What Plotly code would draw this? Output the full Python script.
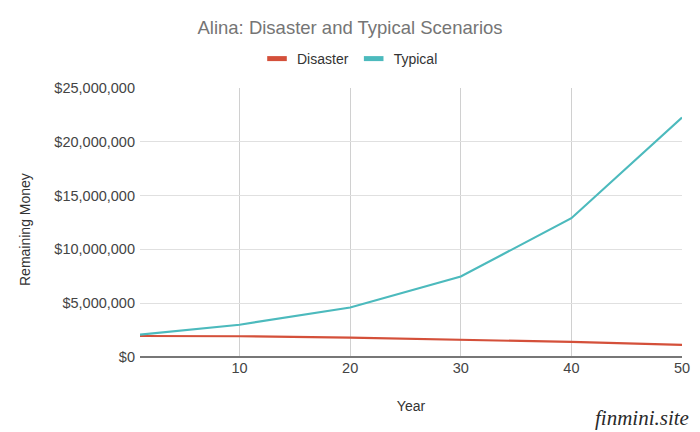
import plotly.graph_objects as go

years = [1, 10, 20, 30, 40, 50]
disaster = [1950000, 1930000, 1800000, 1600000, 1400000, 1130000]
typical = [2080000, 3000000, 4600000, 7480000, 12900000, 22250000]

series_names = ["Disaster", "Typical"]
series_colors = ["#d4503a", "#4cbabd"]

y_ticks = [0, 5000000, 10000000, 15000000, 20000000, 25000000]
y_labels = ["$0", "$5,000,000", "$10,000,000", "$15,000,000", "$20,000,000", "$25,000,000"]
x_ticks = [10, 20, 30, 40, 50]

fig = go.Figure()
for name, vals, col in zip(series_names, [disaster, typical], series_colors):
    fig.add_trace(go.Scatter(x=years, y=vals, mode="lines", name=name, showlegend=False,
                             line=dict(color=col, width=2.2)))
    # legend-only entry with a short thick bar symbol
    fig.add_trace(go.Scatter(x=[None], y=[None], mode="markers", name=name, showlegend=True,
                             marker=dict(symbol="line-ew", size=14, color=col,
                                         line=dict(color=col, width=5))))

fig.update_layout(
    width=700, height=432,
    margin=dict(l=140, r=18, t=88, b=75, autoexpand=False),
    paper_bgcolor="white", plot_bgcolor="white",
    title=dict(text="Alina: Disaster and Typical Scenarios", x=0.5, xanchor="center",
               xref="container", y=1 - 28 / 432, yanchor="middle",
               font=dict(family="Liberation Sans, Arial", size=18.5, color="#757575")),
    legend=dict(orientation="h", x=0.5, xanchor="center", y=1 - 59 / 432, yanchor="middle",
                xref="container", yref="container",
                font=dict(family="Liberation Sans, Arial", size=14, color="#333333"),
                itemwidth=30, bgcolor="rgba(0,0,0,0)"),
    font=dict(family="Liberation Sans, Arial", size=14, color="#444444"),
)
fig.update_xaxes(range=[1, 50], tickvals=x_ticks, showgrid=True, gridcolor="#d0d0d0",
                 gridwidth=1, zeroline=False, showline=False, ticks="",
                 title=dict(text="Year", font=dict(size=14, color="#333333"), standoff=26),
                 tickfont=dict(size=14.5, color="#444444"))
fig.update_yaxes(range=[0, 25000000], tickvals=y_ticks, ticktext=y_labels, showgrid=True,
                 gridcolor="#e0e0e0", gridwidth=1, zeroline=True, zerolinecolor="#777777",
                 zerolinewidth=2, showline=False, ticks="", ticklabelstandoff=4,
                 tickfont=dict(size=14.5, color="#444444"))
fig.add_annotation(text="Remaining Money", xref="paper", yref="paper",
                   x=(25 - 140) / 542, y=(357 - 230) / 269, textangle=-90,
                   xanchor="center", yanchor="middle", showarrow=False,
                   font=dict(family="Liberation Sans, Arial", size=14, color="#333333"))
fig.add_annotation(text="<i>finmini.site</i>", xref="paper", yref="paper",
                   x=(691 - 140) / 542, y=(357 - 418) / 269, xanchor="right", yanchor="middle",
                   showarrow=False,
                   font=dict(family="Liberation Serif, DejaVu Serif", size=21, color="#2a2a2a"))
fig.write_html("out.html")
